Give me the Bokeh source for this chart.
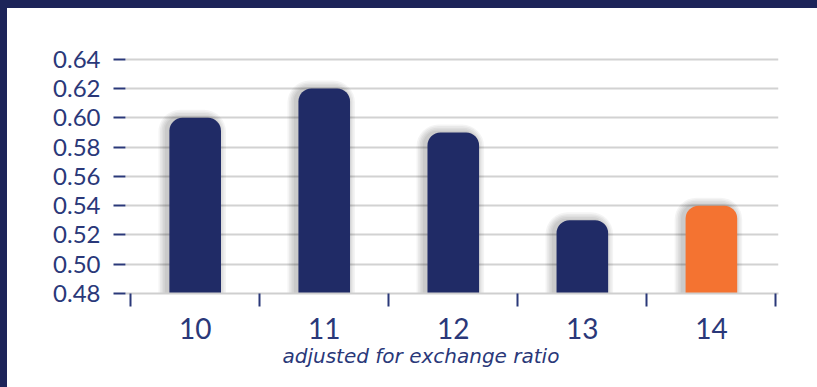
from bokeh.plotting import figure
from bokeh.models import ColumnDataSource, FixedTicker, Range1d, Title, NumeralTickFormatter
from bokeh.transform import dodge
from bokeh.embed import file_html
from bokeh.resources import INLINE

# ---- data ----
years = [10, 11, 12, 13, 14]
year_labels = ["10", "11", "12", "13", "14"]
values = [0.60, 0.62, 0.59, 0.53, 0.54]
bar_colors = ["#202b66", "#202b66", "#202b66", "#202b66", "#f47331"]
y_ticks = [0.48, 0.50, 0.52, 0.54, 0.56, 0.58, 0.60, 0.62, 0.64]
x_title = "adjusted for exchange ratio"

NAVY_BG = "#1d2459"
NAVY_TXT = "#2a3879"
PX_X = 1 / 129.0          # data units per px (x)
PX_Y = 0.02 / 29.25       # data units per px (y)

p = figure(width=810, height=379, output_backend="svg", toolbar_location=None,
           x_range=Range1d(9.46, 14.52), y_range=Range1d(0.48, 0.646),
           min_border_left=118, min_border_right=46, min_border_top=42,
           min_border_bottom=102)
p.styles = {"border-left": f"7px solid {NAVY_BG}", "border-top": f"8px solid {NAVY_BG}",
            "box-sizing": "content-box", "background-color": "white"}
p.outline_line_color = None
p.background_fill_color = "white"
p.border_fill_color = "white"

# grid
p.xgrid.visible = False
p.ygrid.grid_line_color = "#d2d2d2"
p.ygrid.grid_line_width = 2

# shadows
src = ColumnDataSource(dict(x=years, top=values, color=bar_colors))
for i in range(1, 6):
    s = ColumnDataSource(dict(x=years, top=[v + i * 1.6 * PX_Y for v in values]))
    p.vbar(x=dodge("x", -3 * PX_X, range=p.x_range), top="top", bottom=0.48,
           width=0.40 + 2 * i * 1.6 * PX_X, source=s, fill_color="black",
           fill_alpha=0.045, line_color=None, border_radius=(12 + 2 * i, 12 + 2 * i, 0, 0))

p.vbar(x="x", top="top", bottom=0.48, width=0.40, source=src,
       fill_color="color", line_color=None, border_radius=(13, 13, 0, 0))

# y axis
p.yaxis.ticker = FixedTicker(ticks=y_ticks)
p.yaxis.formatter = NumeralTickFormatter(format="0.00")
p.yaxis.axis_line_color = None
p.yaxis.major_tick_out = 12
p.yaxis.major_tick_in = 0
p.yaxis.major_tick_line_color = NAVY_TXT
p.yaxis.major_tick_line_width = 2
p.yaxis.minor_tick_line_color = None
p.yaxis.major_label_text_font = "Lato"
p.yaxis.major_label_text_font_size = "24px"
p.yaxis.major_label_text_color = NAVY_TXT
p.yaxis.major_label_standoff = 13

# x axis
p.xaxis.ticker = FixedTicker(ticks=years, minor_ticks=[y - 0.5 for y in years] + [years[-1] + 0.5])
p.xaxis.major_label_overrides = {y: l for y, l in zip(years, year_labels)}
p.xaxis.axis_line_color = "#cfcfcf"
p.xaxis.axis_line_width = 2
p.xaxis.major_tick_out = 0
p.xaxis.major_tick_in = 0
p.xaxis.minor_tick_out = 13
p.xaxis.minor_tick_in = 0
p.xaxis.minor_tick_line_color = NAVY_TXT
p.xaxis.minor_tick_line_width = 2
p.xaxis.major_label_text_font = "Lato"
p.xaxis.major_label_text_font_size = "28px"
p.xaxis.major_label_text_color = NAVY_TXT
p.xaxis.major_label_standoff = 11

t = Title(text=x_title, align="left", offset=157, text_font="DejaVu Sans",
          text_font_style="italic", text_font_size="20px", text_color=NAVY_TXT,
          standoff=0)
p.add_layout(t, "below")

open("out.html", "w").write(file_html(p, INLINE))
